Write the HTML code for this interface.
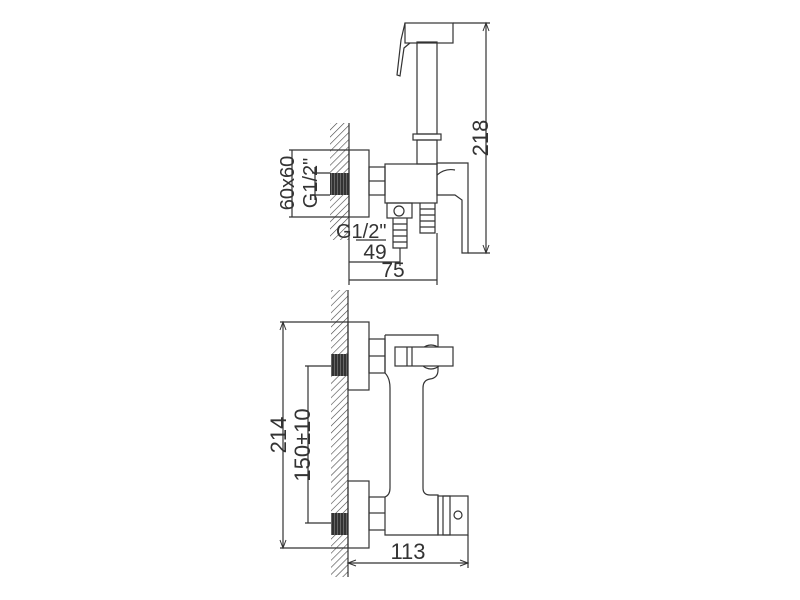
<!DOCTYPE html>
<html><head><style>html,body{margin:0;padding:0;background:#fff}svg{display:block}</style></head><body>
<svg width="800" height="600" viewBox="0 0 800 600" xmlns="http://www.w3.org/2000/svg" font-family="Liberation Sans, sans-serif" fill="none" stroke="#333" stroke-width="1.2">
<defs>
<pattern id="h" width="5" height="5" patternUnits="userSpaceOnUse" patternTransform="rotate(45)"><line x1="0" y1="0" x2="0" y2="5" stroke="#444" stroke-width="1.2"/></pattern>
<pattern id="t" width="3" height="3" patternUnits="userSpaceOnUse"><rect width="3" height="3" fill="#333"/><line x1="1.5" y1="0" x2="1.5" y2="3" stroke="#888" stroke-width="0.6"/></pattern>
</defs>
<!-- TOP VIEW -->
<rect x="330" y="123" width="19" height="117" fill="url(#h)" stroke="none"/>
<line x1="349" y1="123" x2="349" y2="285"/>
<rect x="330" y="173" width="19" height="22" fill="url(#t)" stroke="none"/>
<rect x="349" y="150" width="20" height="67"/>
<rect x="369" y="167" width="16" height="28"/>
<line x1="369" y1="181" x2="385" y2="181"/>
<rect x="385" y="164" width="52" height="39"/>
<path d="M437 163 L468 163 L468 253 L462 253 L462 200 L455 195 L437 195 Z"/>
<path d="M437 175 Q445 168 455 170"/>
<rect x="417" y="140" width="20" height="24"/>
<rect x="413" y="134" width="28" height="6"/>
<rect x="417" y="42" width="20" height="92"/>
<rect x="405" y="23" width="48" height="20"/>
<path d="M405 23 L401 40 L397 75 L400 76 L404 48 L410 43"/>
<rect x="387" y="203" width="25" height="15"/>
<circle cx="399" cy="211" r="5"/>
<path d="M393 218 L393 248 L407 248 L407 218"/>
<path d="M393 224h14M393 230h14M393 236h14M393 242h14"/>
<path d="M420 203 L420 233 L435 233 L435 203"/>
<path d="M420 209h15M420 215h15M420 221h15M420 227h15"/>
<!-- dims top -->
<line x1="453" y1="23" x2="490" y2="23"/>
<line x1="468" y1="253" x2="490" y2="253"/>
<line x1="486" y1="23" x2="486" y2="253"/>
<path d="M483 31 L486 23 L489 31M483 245 L486 253 L489 245" stroke-width="1"/>
<text transform="translate(488 138) rotate(-90)" font-size="22" fill="#333" stroke="none" text-anchor="middle">218</text>
<line x1="289" y1="150" x2="349" y2="150"/>
<line x1="289" y1="217" x2="349" y2="217"/>
<line x1="292" y1="150" x2="292" y2="217"/>
<text transform="translate(294 183) rotate(-90)" font-size="20" fill="#333" stroke="none" text-anchor="middle">60x60</text>
<line x1="312" y1="173" x2="330" y2="173"/>
<line x1="312" y1="195" x2="330" y2="195"/>
<line x1="315" y1="167" x2="315" y2="200"/>
<text transform="translate(317 183) rotate(-90)" font-size="20" fill="#333" stroke="none" text-anchor="middle">G1/2"</text>
<text x="336" y="238" font-size="20" fill="#333" stroke="none">G1/2"</text>
<line x1="356" y1="240" x2="386" y2="240"/>
<line x1="349" y1="262" x2="400" y2="262"/>
<line x1="400" y1="248" x2="400" y2="266"/>
<text x="375" y="259" font-size="21" fill="#333" stroke="none" text-anchor="middle">49</text>
<line x1="349" y1="280" x2="437" y2="280"/>
<line x1="437" y1="233" x2="437" y2="285"/>
<text x="393" y="277" font-size="21" fill="#333" stroke="none" text-anchor="middle">75</text>
<!-- BOTTOM VIEW -->
<rect x="331" y="290" width="17" height="287" fill="url(#h)" stroke="none"/>
<line x1="348" y1="290" x2="348" y2="577"/>
<rect x="331" y="354" width="17" height="22" fill="url(#t)" stroke="none"/>
<rect x="331" y="513" width="17" height="22" fill="url(#t)" stroke="none"/>
<rect x="348" y="322" width="21" height="68"/>
<rect x="348" y="481" width="21" height="67"/>
<rect x="369" y="339" width="16" height="34"/>
<line x1="369" y1="356" x2="385" y2="356"/>
<rect x="369" y="497" width="16" height="33"/>
<line x1="369" y1="513" x2="385" y2="513"/>
<path d="M385 335 L438 335 L438 370 Q438 378 430 379 Q423 380 423 388 L423 488 Q423 495 430 495 L438 495 L438 535 L385 535 L385 530 M385 497 L385 497 Q390 495 390 488 L390 388 Q390 378 385 373 L385 335"/>
<circle cx="431" cy="357" r="12"/>
<rect x="395" y="347" width="58" height="19" fill="#fff"/>
<line x1="407" y1="347" x2="407" y2="366"/>
<line x1="412" y1="347" x2="412" y2="366"/>
<rect x="438" y="496" width="30" height="39"/>
<rect x="443" y="496" width="7" height="39"/>
<circle cx="458" cy="515" r="4"/>
<!-- dims bottom -->
<line x1="280" y1="322" x2="348" y2="322"/>
<line x1="280" y1="548" x2="348" y2="548"/>
<line x1="283" y1="322" x2="283" y2="548"/>
<path d="M280 330 L283 322 L286 330M280 540 L283 548 L286 540" stroke-width="1"/>
<text transform="translate(286 435) rotate(-90)" font-size="22" fill="#333" stroke="none" text-anchor="middle">214</text>
<line x1="305" y1="366" x2="331" y2="366"/>
<line x1="305" y1="523" x2="331" y2="523"/>
<line x1="308" y1="366" x2="308" y2="523"/>
<text transform="translate(310 445) rotate(-90)" font-size="22" fill="#333" stroke="none" text-anchor="middle">150±10</text>
<line x1="348" y1="563" x2="468" y2="563"/>
<line x1="468" y1="535" x2="468" y2="568"/>
<path d="M356 560 L348 563 L356 566M460 560 L468 563 L460 566" stroke-width="1"/>
<text x="408" y="559" font-size="22" fill="#333" stroke="none" text-anchor="middle">113</text>
</svg>
</body></html>
